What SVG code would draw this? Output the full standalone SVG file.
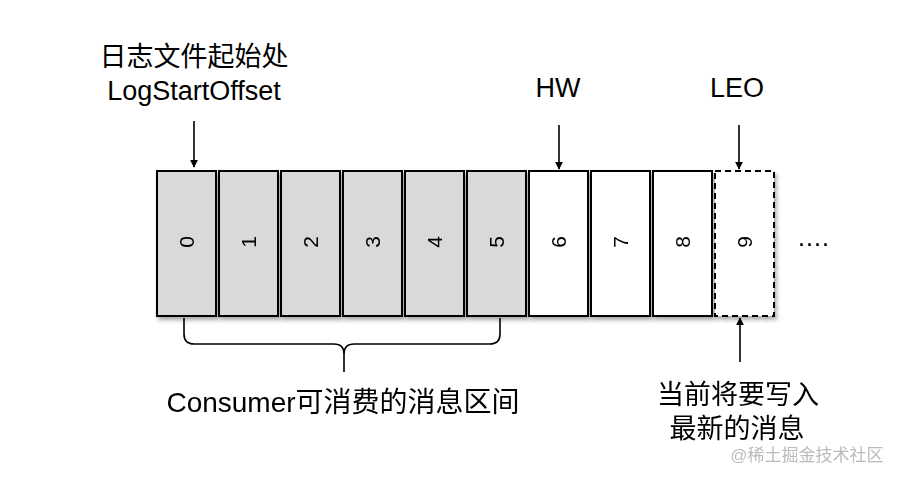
<svg xmlns="http://www.w3.org/2000/svg" width="904" height="480" viewBox="0 0 904 480">
<style>
.t{font-family:"Liberation Sans","Noto Sans CJK SC",Arial,sans-serif;fill:#000;}
.lbl{font-size:27px;text-anchor:middle;}
.num{font-size:21px;text-anchor:middle;}
.cell{stroke:#000;stroke-width:2;}
.g{fill:#d9d9d9;}
.w{fill:#fff;}
.arr{stroke:#000;stroke-width:1.6;fill:none;}
</style>
<defs>
<filter id="sh" x="-20%" y="-10%" width="150%" height="130%">
<feDropShadow dx="2" dy="3" stdDeviation="2" flood-color="#000" flood-opacity="0.35"/>
</filter>
<marker id="ah" viewBox="0 0 10 10" refX="9" refY="5" markerWidth="8" markerHeight="8" markerUnits="userSpaceOnUse" orient="auto">
<path d="M0,0 L10,5 L0,10 z" fill="#000"/>
</marker>
</defs>
<rect width="904" height="480" fill="#fff"/>

<g id="label-start">
<text class="t lbl" x="194" y="66">日志文件起始处</text>
<text class="t lbl" x="194" y="100">LogStartOffset</text>
</g>
<g id="label-hw"><text class="t lbl" x="558" y="97">HW</text></g>
<g id="label-leo"><text class="t lbl" x="737" y="97">LEO</text></g>

<g id="cells" filter="url(#sh)">
<g id="cell-0"><rect class="cell g" x="157" y="171" width="59" height="145"/><text class="t num" transform="translate(186.5,242) rotate(-90)" y="7.5">0</text></g>
<g id="cell-1"><rect class="cell g" x="219" y="171" width="59" height="145"/><text class="t num" transform="translate(248.5,242) rotate(-90)" y="7.5">1</text></g>
<g id="cell-2"><rect class="cell g" x="281" y="171" width="59" height="145"/><text class="t num" transform="translate(310.5,242) rotate(-90)" y="7.5">2</text></g>
<g id="cell-3"><rect class="cell g" x="343" y="171" width="59" height="145"/><text class="t num" transform="translate(372.5,242) rotate(-90)" y="7.5">3</text></g>
<g id="cell-4"><rect class="cell g" x="405" y="171" width="59" height="145"/><text class="t num" transform="translate(434.5,242) rotate(-90)" y="7.5">4</text></g>
<g id="cell-5"><rect class="cell g" x="467" y="171" width="59" height="145"/><text class="t num" transform="translate(496.5,242) rotate(-90)" y="7.5">5</text></g>
<g id="cell-6"><rect class="cell w" x="529" y="171" width="59" height="145"/><text class="t num" transform="translate(558.5,242) rotate(-90)" y="7.5">6</text></g>
<g id="cell-7"><rect class="cell w" x="591" y="171" width="59" height="145"/><text class="t num" transform="translate(620.5,242) rotate(-90)" y="7.5">7</text></g>
<g id="cell-8"><rect class="cell w" x="653" y="171" width="59" height="145"/><text class="t num" transform="translate(682.5,242) rotate(-90)" y="7.5">8</text></g>
<g id="cell-9"><rect class="cell w" x="715" y="171" width="59" height="145" stroke-dasharray="6,4"/><text class="t num" transform="translate(744.5,242) rotate(-90)" y="7.5">9</text></g>
</g>

<g id="ellipsis"><text class="t" x="799" y="246" style="font-size:18px;letter-spacing:3px;font-weight:bold">....</text></g>

<g id="connectors">
<line class="arr" x1="194" y1="121" x2="194" y2="167" marker-end="url(#ah)"/>
<line class="arr" x1="559" y1="125" x2="559" y2="169" marker-end="url(#ah)"/>
<line class="arr" x1="739" y1="125" x2="739" y2="169" marker-end="url(#ah)"/>
<line class="arr" x1="740" y1="362" x2="740" y2="318" marker-end="url(#ah)"/>
<path class="arr" d="M184,318 L184,334 Q184,344 194,344 L334,344 Q344,344 344,354 L344,372 M344,354 Q344,344 354,344 L490,344 Q500,344 500,334 L500,318"/>
</g>

<g id="label-consumer"><text class="t lbl" x="343" y="412" style="font-size:28px">Consumer可消费的消息区间</text></g>
<g id="label-write">
<text class="t lbl" x="738" y="404">当前将要写入</text>
<text class="t lbl" x="737" y="438">最新的消息</text>
</g>
<g id="watermark"><text class="t" x="807" y="461" style="font-size:17px;text-anchor:middle;fill:#bbbbbb">@稀土掘金技术社区</text></g>
</svg>
